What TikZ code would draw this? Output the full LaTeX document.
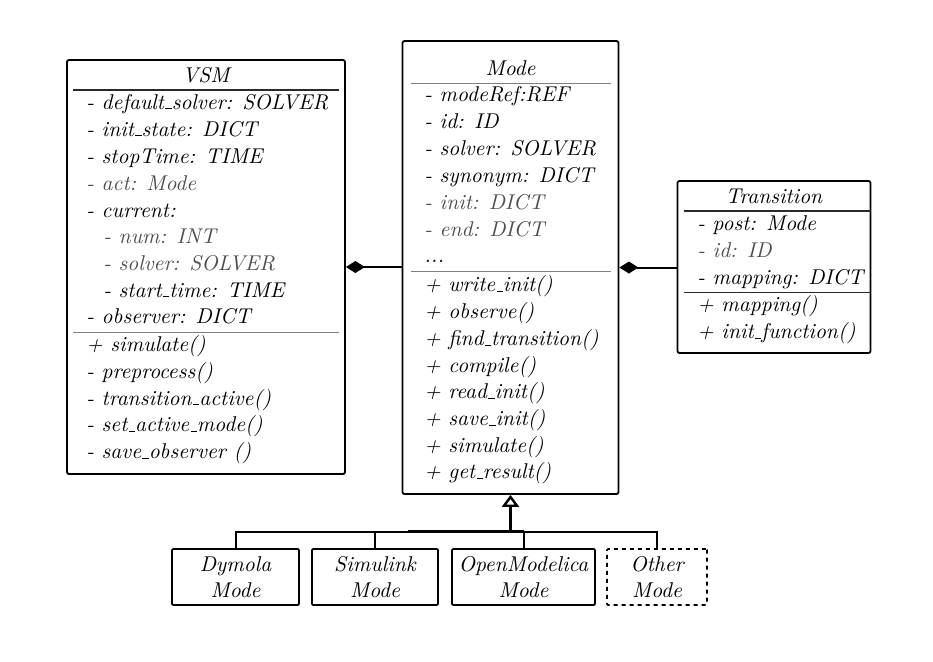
\documentclass[tikz,border=0pt]{standalone}
\usetikzlibrary{arrows.meta}
\definecolor{gtext}{HTML}{4E4E4E}
\definecolor{gsep}{HTML}{808080}
\definecolor{dsep}{HTML}{2A2A2A}
\newcommand\us{\leavevmode\kern.06em\vbox{\hrule width.3em}}
\newcommand\itfont{\fontsize{10.7}{13.2}\selectfont\itshape}
\begin{document}
\begin{tikzpicture}[x=0.5pt,y=-0.5pt,
  classbox/.style={draw, line width=0.9pt, rounded corners=1pt, inner sep=0pt},
  item/.style={anchor=base west, inner sep=0pt, font=\itfont},
  gitem/.style={item, text=gtext},
  ttl/.style={anchor=base, inner sep=0pt, font=\itfont},
  gsepline/.style={draw=gsep, line width=0.6pt},
  dsepline/.style={draw=dsep, line width=0.6pt},
  conn/.style={draw, line width=1pt},
  heavy/.style={draw, line width=1.6pt},
  subbox/.style={draw, line width=0.9pt, rounded corners=0.6pt, minimum width=#1, minimum height=28pt, inner sep=0pt, align=center, font=\itfont}
]
\useasboundingbox (0,0) rectangle (933,661);

% ---------------- VSM ----------------
\node[classbox, minimum width=139pt, minimum height=207pt] (vsm) at (206,267) {};
\node[ttl] (vsmt) at (206,82.3) {VSM};
\draw[dsepline] (73,90) coordinate (vs1a) -- (338.5,90) coordinate (vs1b);
\node[item]  (v1) at (86,109)   {- default\us solver: SOLVER};
\node[item]  (v2) at (86,136)   {- init\us state: DICT};
\node[item]  (v3) at (86,163)   {- stopTime: TIME};
\node[gitem] (v4) at (86,190)   {- act: Mode};
\node[item]  (v5) at (86,217)   {- current:};
\node[gitem] (v6) at (103,243.5){- num: INT};
\node[gitem] (v7) at (103,270)  {- solver: SOLVER};
\node[item]  (v8) at (103,297)  {- start\us time: TIME};
\node[item]  (v9) at (86,323.5) {- observer: DICT};
\draw[gsepline] (73,332.5) coordinate (vs2a) -- (338.5,332.5) coordinate (vs2b);
\node[item] (vm1) at (86,351.7) {+ simulate()};
\node[item] (vm2) at (86,378.3) {- preprocess()};
\node[item] (vm3) at (86,405)   {- transition\us active()};
\node[item] (vm4) at (86,431.7) {- set\us active\us mode()};
\node[item] (vm5) at (86,458.3) {- save\us observer ()};

% ---------------- Mode ----------------
\node[classbox, minimum width=108pt, minimum height=226.5pt] (mode) at (510.5,267.5) {};
\node[ttl] (modet) at (510.5,75) {Mode};
\draw[gsepline] (411,83.3) coordinate (ms1a) -- (611,83.3) coordinate (ms1b);
\node[item]  (m1) at (424,101.7) {- modeRef:REF};
\node[item]  (m2) at (424,128.7) {- id: ID};
\node[item]  (m3) at (424,155.5) {- solver: SOLVER};
\node[item]  (m4) at (424,182.3) {- synonym: DICT};
\node[gitem] (m5) at (424,209)   {- init: DICT};
\node[gitem] (m6) at (424,236)   {- end: DICT};
\node[item]  (m7) at (424,262.5) {...};
\draw[gsepline] (411,271.5) coordinate (ms2a) -- (611,271.5) coordinate (ms2b);
\node[item] (mm1) at (424,291.7) {+ write\us init()};
\node[item] (mm2) at (424,318.5) {+ observe()};
\node[item] (mm3) at (424,345.3) {+ find\us transition()};
\node[item] (mm4) at (424,372)   {+ compile()};
\node[item] (mm5) at (424,398.7) {+ read\us init()};
\node[item] (mm6) at (424,425.5) {+ save\us init()};
\node[item] (mm7) at (424,452.3) {+ simulate()};
\node[item] (mm8) at (424,478.7) {+ get\us result()};

% ---------------- Transition ----------------
\node[classbox, minimum width=96.5pt, minimum height=86pt] (trans) at (774,267) {};
\node[ttl] (transt) at (774,203.3) {Transition};
\draw[dsepline] (684,211) coordinate (ts1a) -- (870.5,211) coordinate (ts1b);
\node[item]  (t1) at (697,230) {- post: Mode};
\node[gitem] (t2) at (697,257) {- id: ID};
\node[item]  (t3) at (697,284) {- mapping: DICT};
\draw[dsepline] (684,292.3) coordinate (ts2a) -- (870.5,292.3) coordinate (ts2b);
\node[item] (tm1) at (697,311.5) {+ mapping()};
\node[item] (tm2) at (697,338.3) {+ init\us function()};

% ---------------- compositions ----------------
\draw[conn, {Diamond[length=9.5pt,width=6pt]}-] (vsm.east) -- (vsm.east -| mode.west);
\draw[conn, {Diamond[length=9.5pt,width=6pt]}-] (mode.east) -- (mode.east -| trans.west);

% ---------------- subclasses ----------------
\node[subbox=63.5pt] (dym) at (235.5,577) {Dymola\\Mode};
\node[subbox=63pt]   (sim) at (375,577)   {Simulink\\Mode};
\node[subbox=71.5pt] (omc) at (523.5,577) {OpenModelica\\Mode};
\node[subbox=50pt, dashed, dash pattern=on 2pt off 2pt] (oth) at (657,577) {Other\\Mode};

\coordinate (bus) at (mode.south |- 0,531.5);
\coordinate (thick0) at (408,531.5);
\draw[conn] (dym.north) |- (bus);
\draw[conn] (sim.north) |- (bus);
\draw[conn] (omc.north) |- (bus);
\draw[conn] (oth.north) |- (bus);
\draw[heavy] (thick0) -- (bus -| omc.north);
\draw[heavy, -{Triangle[open,length=6pt,width=8.5pt,line width=1.2pt]}] (bus) -- (mode.south);
\end{tikzpicture}
\end{document}
